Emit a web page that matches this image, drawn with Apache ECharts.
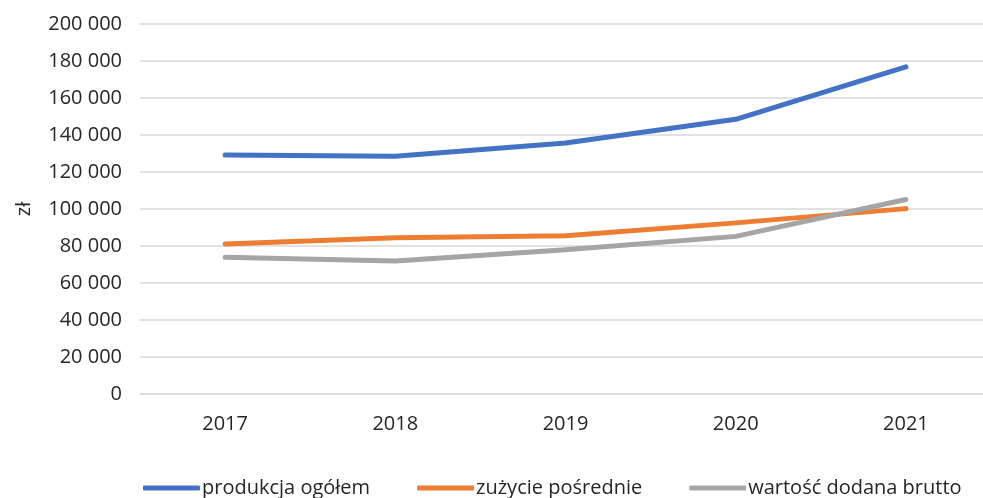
<!DOCTYPE html>
<html>
<head>
<meta charset="utf-8">
<script src="https://cdn.jsdelivr.net/npm/echarts@6/dist/echarts.min.js"></script>
<style>
  html, body { margin: 0; padding: 0; background: #fff; }
  #chart { width: 983px; height: 498px; }
</style>
</head>
<body>
<div id="chart"></div>
<script>
const years = ['2017', '2018', '2019', '2020', '2021']
const produkcja = [129200, 128500, 135700, 148500, 176800]
const zuzycie = [81100, 84500, 85600, 92500, 100200]
const wartosc = [73900, 71900, 78000, 85200, 105100]
const seriesNames = ['produkcja ogółem', 'zużycie pośrednie', 'wartość dodana brutto']
const colors = ['#4472C4', '#ED7D31', '#A5A5A5']

const font = '"Open Sans", sans-serif'
const chart = echarts.init(document.getElementById('chart'))

const makeLine = (name, data, color) => ({
  name,
  type: 'line',
  data,
  symbol: 'none',
  smooth: false,
  lineStyle: { width: 5, color, cap: 'round', join: 'round' },
  itemStyle: { color }
})

chart.setOption({
  animation: false,
  grid: { left: 140, top: 24, width: 851, height: 370, outerBoundsMode: 'none' },
  legend: {
    top: 473,
    left: 138,
    icon: 'roundRect',
    itemWidth: 57,
    itemHeight: 5,
    itemGap: 47,
    textStyle: { fontFamily: font, fontSize: 20, color: '#262626', padding: [0, 0, 0, -3] },
    data: seriesNames
  },
  xAxis: {
    type: 'category',
    data: years,
    boundaryGap: true,
    axisLine: { lineStyle: { color: '#D9D9D9', width: 1.5 } },
    axisTick: { show: false },
    axisLabel: { fontFamily: font, fontSize: 20, color: '#262626', margin: 20 }
  },
  yAxis: {
    type: 'value',
    min: 0,
    max: 200000,
    interval: 20000,
    name: 'zł',
    nameLocation: 'middle',
    nameGap: 106,
    nameRotate: 90,
    nameTextStyle: { fontFamily: font, fontSize: 20, color: '#262626' },
    axisLine: { show: false },
    axisTick: { show: false },
    splitLine: { lineStyle: { color: '#D9D9D9', width: 1.5 } },
    axisLabel: {
      fontFamily: font,
      fontSize: 20,
      color: '#262626',
      margin: 18,
      formatter: v => String(v).replace(/\B(?=(\d{3})+(?!\d))/g, ' ')
    }
  },
  series: [
    makeLine(seriesNames[0], produkcja, colors[0]),
    makeLine(seriesNames[1], zuzycie, colors[1]),
    makeLine(seriesNames[2], wartosc, colors[2])
  ]
})
</script>
</body>
</html>
